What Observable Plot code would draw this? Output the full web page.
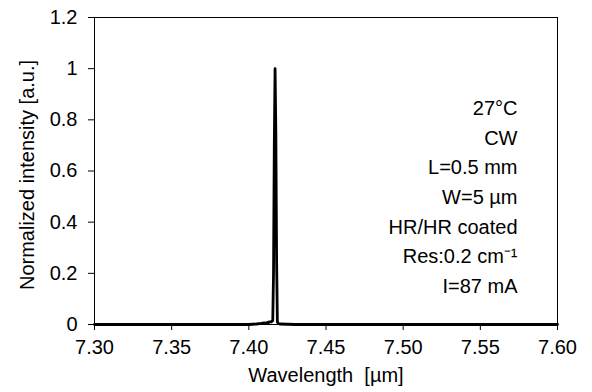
<!DOCTYPE html>
<html>
<head>
<meta charset="utf-8">
<script src="https://cdn.jsdelivr.net/npm/d3@7"></script>
<script src="https://cdn.jsdelivr.net/npm/@observablehq/plot@0.6"></script>
<style>
  html, body { margin: 0; padding: 0; background: #fff; }
  #chart { width: 592px; height: 392px; }
  svg { font-family: "Liberation Sans", Arial, sans-serif; }
</style>
</head>
<body>
<div id="chart"></div>
<script>
// Spectrum data (wavelength in µm, normalized intensity)
const wavelength = [7.300, 7.350, 7.380, 7.400, 7.405, 7.408, 7.410, 7.411, 7.412, 7.4125, 7.413, 7.4145, 7.4155, 7.416, 7.4165, 7.417, 7.4175, 7.418, 7.4185, 7.419, 7.4195, 7.420, 7.425, 7.430, 7.500, 7.600];
const intensity  = [0,     0,     0,     0,     0.002, 0.004, 0.006, 0.005, 0.008, 0.005,  0.010, 0.010,  0.015,  0.20,   0.70,   1.00,   0.75,   0.25,   0.010,  0.004, 0.003,  0.002, 0.001, 0,     0,     0];

const xTicks = [7.30, 7.35, 7.40, 7.45, 7.50, 7.55, 7.60];
const yTicks = [0, 0.2, 0.4, 0.6, 0.8, 1.0, 1.2];

const xLabel = "Wavelength  [µm]";
const yLabel = "Normalized intensity [a.u.]";
const notes = ["27°C", "CW", "L=0.5 mm", "W=5 µm", "HR/HR coated", "Res:0.2 cm⁻¹", "I=87 mA"];

const data = wavelength.map((w, i) => ({w, v: intensity[i]}));
const font = "'Liberation Sans', Arial, sans-serif";

const chart = Plot.plot({
  width: 592,
  height: 392,
  marginLeft: 94,
  marginRight: 35,
  marginTop: 17,
  marginBottom: 68,
  style: {fontSize: "20px", fontFamily: font, color: "#000", background: "#fff"},
  x: {domain: [7.3, 7.6], ticks: xTicks, tickFormat: d => d.toFixed(2)},
  y: {domain: [0, 1.2], ticks: yTicks, tickFormat: d => String(+d.toFixed(1))},
  marks: [
    Plot.frame({stroke: "#000", strokeWidth: 1}),
    Plot.axisX({ticks: xTicks, tickFormat: d => d.toFixed(2), tickSize: 6, tickPadding: 9, label: null, fontSize: 20, stroke: "#000"}),
    Plot.axisY({ticks: yTicks, tickFormat: d => String(+d.toFixed(1)), tickSize: 6, tickPadding: 11, label: null, fontSize: 20, stroke: "#000"}),
    Plot.line(data, {x: "w", y: "v", stroke: "#000", strokeWidth: 2.8, strokeLinejoin: "round"}),
    Plot.text([xLabel], {text: d => d, frameAnchor: "bottom", dy: 57, fontSize: 20, fill: "#000"}),
    Plot.text([yLabel], {text: d => d, frameAnchor: "left", textAnchor: "middle", dx: -67, dy: 4, rotate: -90, fontSize: 20, fill: "#000"}),
    Plot.text([notes.join("\n")], {text: d => d, frameAnchor: "right", textAnchor: "end", dx: -40, dy: 23.5, lineHeight: 1.485, fontSize: 20, fill: "#000"})
  ]
});
document.getElementById("chart").appendChild(chart);
</script>
</body>
</html>
